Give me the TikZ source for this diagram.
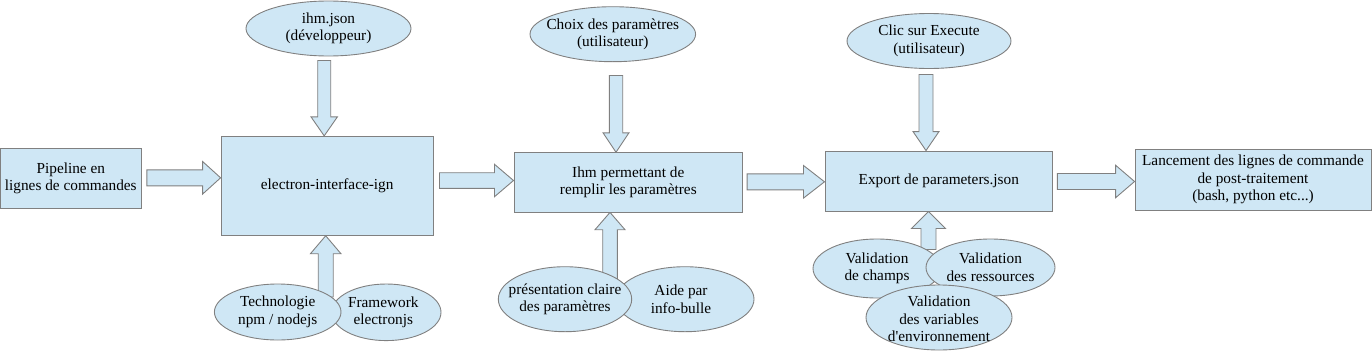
\documentclass[tikz,border=0pt]{standalone}
\usepackage{fontspec}
\setmainfont{Liberation Serif}
\newfontfamily\diagfont{Liberation Serif}
\usetikzlibrary{shapes.geometric,calc,backgrounds}
\definecolor{boxfill}{HTML}{CFE7F5}
\definecolor{boxline}{HTML}{808080}
\tikzset{
  fnt/.style={font=\diagfont\fontsize{15.3}{17.6}\selectfont},
  box/.style={draw=boxline, fill=boxfill, line width=0.9pt, rectangle, inner sep=0pt, align=center, fnt},
  ell/.style={draw=boxline, fill=boxfill, line width=0.9pt, ellipse, inner sep=0pt},
  txt/.style={align=center, inner sep=0pt, fnt},
  blk/.style={draw=boxline, fill=boxfill, line width=0.9pt, line join=miter},
}
% #1 start coordinate, #2 tip coordinate, #3 shaft half width, #4 head half width, #5 head length
\newcommand\blockarr[5]{%
  \coordinate (ba-b) at ($(#2)!#5!(#1)$);
  \draw[blk] ($(#1)!#3!90:(#2)$) -- ($(ba-b)!#3!90:(#2)$) -- ($(ba-b)!#4!90:(#2)$) -- (#2)
    -- ($(ba-b)!#4!-90:(#2)$) -- ($(ba-b)!#3!-90:(#2)$) -- ($(#1)!#3!-90:(#2)$) -- cycle;}
\begin{document}
\begin{tikzpicture}[x=1pt,y=-1pt]
\useasboundingbox (0,0) rectangle (1372,351);
% main boxes
\node[box, minimum width=140.7pt, minimum height=60pt] (pipe) at (70.8,178.3) {Pipeline en\\lignes de commandes};
\node[box, minimum width=212.3pt, minimum height=99pt] (eii) at (327.2,185.8) {electron-interface-ign};
\node[box, minimum width=228.7pt, minimum height=59.3pt] (ihm) at (628.3,182.3) {Ihm permettant de\\remplir les paramètres};
\node[box, minimum width=227.7pt, minimum height=60pt] (export) at (938.8,181) {Export de parameters.json};
\node[box, minimum width=236pt, minimum height=60.7pt] (lanc) at (1253,179.7) {Lancement des lignes de commande\\de post-traitement\\(bash, python etc...)};
% top ellipses
\node[ell, minimum width=165pt, minimum height=55pt] (ihmjson) at (328.5,28.5) {};
\node[txt] (ihmjsonT) at (ihmjson) {ihm.json\\(développeur)};
\node[ell, minimum width=165.6pt, minimum height=55pt] (choix) at (612.8,34.2) {};
\node[txt] (choixT) at (choix) {Choix des paramètres\\(utilisateur)};
\node[ell, minimum width=164pt, minimum height=55pt] (clic) at (929,41) {};
\node[txt] (clicT) at (clic) {Clic sur Execute\\(utilisateur)};
% bottom ellipses
\node[ell, minimum width=109.4pt, minimum height=56.6pt] (frame) at (386.3,312.3) {};
\node[txt] (frameT) at ($(frame)+(-3,0)$) {Framework\\electronjs};
\node[ell, minimum width=126.6pt, minimum height=56pt] (techno) at (277.7,312) {};
\node[txt] (technoT) at (techno) {Technologie\\npm / nodejs};
\node[ell, minimum width=138pt, minimum height=65pt] (aide) at (685,299.2) {};
\node[txt] (aideT) at ($(aide)+(-4,0)$) {Aide par\\info-bulle};
\node[ell, minimum width=133.4pt, minimum height=65pt] (pres) at (565,299.2) {};
\node[txt] (presT) at (pres) {présentation claire\\des paramètres};
\node[ell, minimum width=128pt, minimum height=59pt] (champs) at (877,268.5) {};
\node[txt] (champsT) at (champs) {Validation\\de champs};
\node[ell, minimum width=129pt, minimum height=57pt] (ress) at (990.5,267.5) {};
\node[txt] (ressT) at (ress) {Validation\\des ressources};
\node[ell, minimum width=146pt, minimum height=65pt] (vars) at (939,317.5) {};
\node[txt] (varsT) at ($(vars)+(0,1.5)$) {Validation\\des variables\\d\textquotesingle environnement};
% block arrows
\begin{pgfonlayer}{background}
  % horizontal
  \coordinate (a1s) at ($(pipe.east)+(5.3,-0.5)$);
  \coordinate (a1t) at (eii.west |- a1s);
  \blockarr{a1s}{a1t}{8pt}{16.3pt}{18pt}
  \coordinate (a2s) at ($(eii.east)+(5.7,-5.3)$);
  \coordinate (a2t) at (ihm.west |- a2s);
  \blockarr{a2s}{a2t}{7.8pt}{16.2pt}{19pt}
  \coordinate (a3s) at ($(ihm.east)+(4,-0.5)$);
  \coordinate (a3t) at (export.west |- a3s);
  \blockarr{a3s}{a3t}{8pt}{16.3pt}{21pt}
  \coordinate (a4s) at ($(export.east)+(4.3,0.5)$);
  \coordinate (a4t) at (lanc.west |- a4s);
  \blockarr{a4s}{a4t}{8pt}{16.3pt}{19pt}
  % down
  \coordinate (d1s) at ($(ihmjson.south)+(-4.3,4)$);
  \coordinate (d1t) at (d1s |- eii.north);
  \blockarr{d1s}{d1t}{6.5pt}{13.2pt}{19pt}
  \coordinate (d2s) at ($(choix.south)+(3.2,13.3)$);
  \coordinate (d2t) at (d2s |- ihm.north);
  \blockarr{d2s}{d2t}{6.7pt}{13pt}{19.4pt}
  \coordinate (d3s) at ($(clic.south)+(-3,5.5)$);
  \coordinate (d3t) at (d3s |- export.north);
  \blockarr{d3s}{d3t}{7pt}{13pt}{19pt}
  % up
  \coordinate (u1s) at ($(techno.center)+(48,-15)$);
  \coordinate (u1t) at (u1s |- eii.south);
  \blockarr{u1s}{u1t}{7.5pt}{15.3pt}{18pt}
  \coordinate (u2s) at ($(pres.center)+(45,-19)$);
  \coordinate (u2t) at (u2s |- ihm.south);
  \blockarr{u2s}{u2t}{7.3pt}{15pt}{17.3pt}
  \coordinate (u3s) at ($(champs.center)+(51.5,-19)$);
  \coordinate (u3t) at (u3s |- export.south);
  \blockarr{u3s}{u3t}{7.5pt}{17pt}{17pt}
\end{pgfonlayer}
\end{tikzpicture}
\end{document}
